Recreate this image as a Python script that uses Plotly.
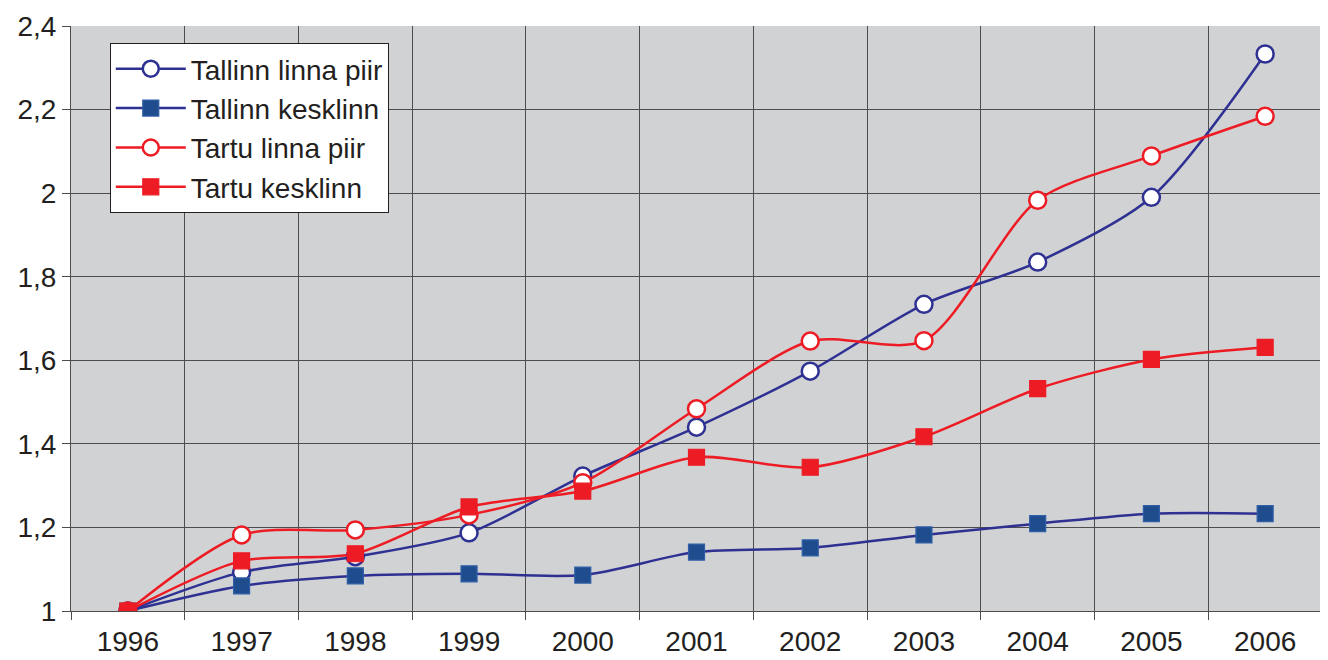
import plotly.graph_objects as go

years = ["1996", "1997", "1998", "1999", "2000", "2001", "2002", "2003", "2004", "2005", "2006"]
tallinn_linna_piir = [1.0, 1.093, 1.13, 1.187, 1.323, 1.44, 1.574, 1.734, 1.835, 1.99, 2.333]
tallinn_kesklinn = [1.0, 1.06, 1.084, 1.089, 1.086, 1.141, 1.151, 1.182, 1.209, 1.233, 1.233]
tartu_linna_piir = [1.0, 1.182, 1.194, 1.23, 1.307, 1.484, 1.646, 1.647, 1.983, 2.089, 2.184]
tartu_kesklinn = [1.0, 1.12, 1.137, 1.249, 1.287, 1.368, 1.344, 1.417, 1.532, 1.602, 1.631]
y_ticks = [1.0, 1.2, 1.4, 1.6, 1.8, 2.0, 2.2, 2.4]

BLUE = "#2e3192"
BLUE_FILL = "#1e4c8c"
BLUE_EDGE = "#2f5fa8"
RED = "#ed1c24"

fig = go.Figure()

def add(name, vals, color, symbol, fill, edge, edge_w):
    fig.add_trace(go.Scatter(
        x=years, y=vals, name=name, mode="lines+markers",
        line=dict(color=color, width=2.5, shape="spline", smoothing=0.8),
        marker=dict(symbol=symbol, size=17 if symbol == "circle" else 16, color=fill,
                    line=dict(color=edge, width=edge_w)),
    ))

add("Tallinn linna piir", tallinn_linna_piir, BLUE, "circle", "white", BLUE, 2.5)
add("Tallinn kesklinn", tallinn_kesklinn, BLUE, "square", BLUE_FILL, BLUE_EDGE, 1.2)
add("Tartu linna piir", tartu_linna_piir, RED, "circle", "white", RED, 2.5)
add("Tartu kesklinn", tartu_kesklinn, RED, "square", RED, RED, 1.2)

font = dict(family="Liberation Sans, Arial, sans-serif", size=28, color="#231f20")

# page body has an 8px default margin, so the figure is sized to fill the rest
fig.update_layout(
    width=1320, height=652,
    margin=dict(l=63, r=6, t=18, b=49),
    paper_bgcolor="white", plot_bgcolor="#d1d2d4",
    separators=", ",
    font=font,
    showlegend=True,
    legend=dict(x=0.031, y=0.971, xanchor="left", yanchor="top",
                bgcolor="white", bordercolor="#231f20", borderwidth=1,
                font=font, itemwidth=70, tracegroupgap=0),
    xaxis=dict(type="category", range=[-0.5, 10.5], tickson="boundaries",
               ticks="outside", ticklen=8, tickcolor="#4d4d4d",
               showgrid=True, gridcolor="#4d4d4d", gridwidth=1,
               showline=True, linecolor="#4d4d4d", mirror=False,
               tickfont=font, zeroline=False, automargin=False,
               ticklabelstandoff=5),
    yaxis=dict(range=[1.0, 2.4], tickvals=y_ticks,
               ticks="outside", ticklen=8, tickcolor="#4d4d4d",
               showgrid=True, gridcolor="#4d4d4d", gridwidth=1,
               showline=True, linecolor="#4d4d4d",
               tickfont=font, zeroline=False, automargin=False),
)

fig.add_shape(type="line", xref="paper", yref="paper", x0=1, x1=1, y0=0, y1=1,
              line=dict(color="#808080", width=2))

fig.write_html("out.html")
